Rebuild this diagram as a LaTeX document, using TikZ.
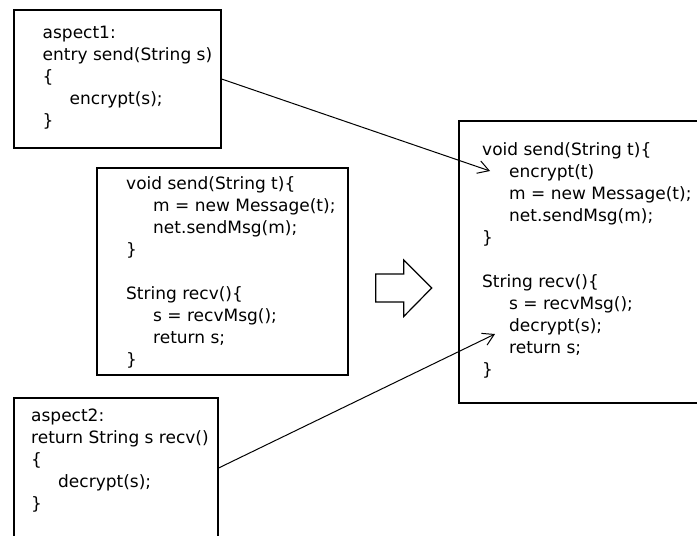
\documentclass[tikz,border=0pt]{standalone}
\usepackage{fontspec}
\setmainfont{DejaVu Sans}
\usetikzlibrary{arrows.meta}
\newcommand\codeind{\hspace*{27pt}}
\begin{document}
\begin{tikzpicture}[x=1pt,y=-1pt,
  box/.style={draw, line width=1.2pt, rectangle, inner sep=0pt},
  code/.style={inner sep=0pt, anchor=base west, font=\fontsize{17}{22}\selectfont},
  link/.style={line width=1pt, -{Straight Barb[length=11pt,width=13pt,line width=1pt]}},
  bigarrow/.style={draw, line width=1.2pt, line join=miter}]
\useasboundingbox (0,0) rectangle (697,536);

% boxes
\node[box, minimum width=207pt, minimum height=138pt] (b1) at (117.5,79) {};
\node[box, minimum width=251pt, minimum height=207pt] (b2) at (222.5,271.5) {};
\node[box, minimum width=270pt, minimum height=282pt] (b3) at (594,262) {};
\node[box, minimum width=204pt, minimum height=140pt] (b4) at (116,468) {};

% texts
\node[code] (t1) at (42.5,38.3) {\begin{tabular}[t]{@{}l@{}}
aspect1:\\
entry send(String s)\\
\{\\
\codeind encrypt(s);\\
\}
\end{tabular}};

\node[code] (t2) at (126,189) {\begin{tabular}[t]{@{}l@{}}
void send(String t)\{\\
\codeind m = new Message(t);\\
\codeind net.sendMsg(m);\\
\}\\
\\
String recv()\{\\
\codeind s = recvMsg();\\
\codeind return s;\\
\}
\end{tabular}};

\node[code] (t3) at (482,155) {\begin{tabular}[t]{@{}l@{}}
void send(String t)\{\\
\codeind encrypt(t)\\
\codeind m = new Message(t);\\
\codeind net.sendMsg(m);\\
\}\\
\\
String recv()\{\\
\codeind s = recvMsg();\\
\codeind decrypt(s);\\
\codeind return s;\\
\}
\end{tabular}};

\node[code] (t4) at (31,421) {\begin{tabular}[t]{@{}l@{}}
aspect2:\\
return String s recv()\\
\{\\
\codeind decrypt(s);\\
\}
\end{tabular}};

% transformation arrow
\draw[bigarrow] (375.7,274) -- (403.7,274) -- (403.7,260) -- (431.7,288)
  -- (403.7,316.5) -- (403.7,302) -- (375.7,302) -- cycle;

% weaving arrows
\coordinate (p1) at (490,171);
\coordinate (p2) at (495,334);
\draw[link] (b1.east) -- (p1);
\draw[link] (b4.east) -- (p2);
\end{tikzpicture}
\end{document}
